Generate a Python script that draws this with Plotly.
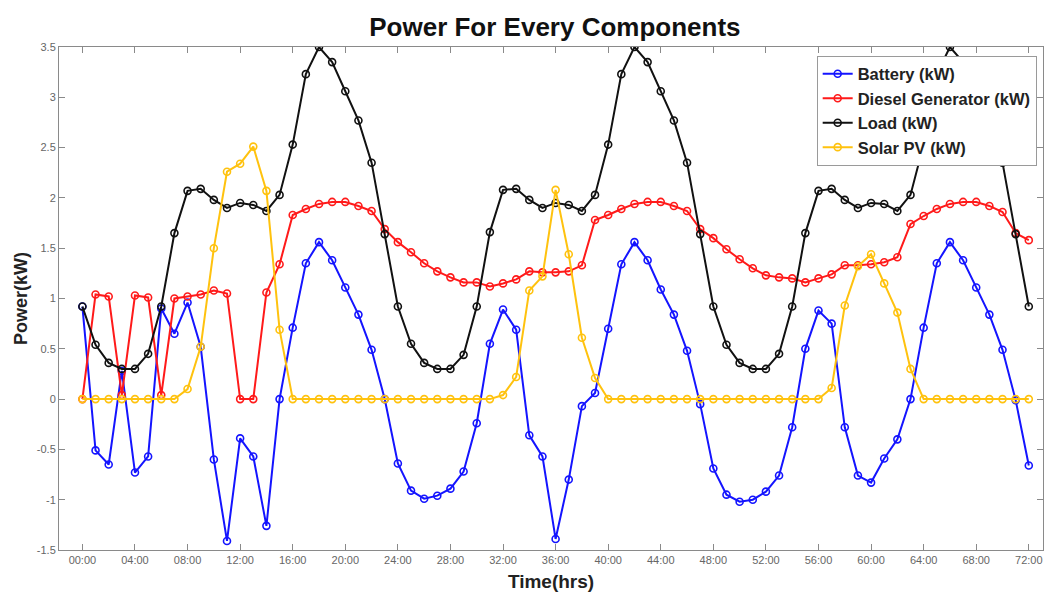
import plotly.graph_objects as go

hours = list(range(73))

battery = [0.92, -0.51, -0.65, 0.28, -0.73, -0.57, 0.90, 0.65, 0.96, 0.52,
           -0.60, -1.41, -0.39, -0.57, -1.26, 0.00, 0.71, 1.35, 1.56, 1.38,
           1.11, 0.84, 0.49, 0.00, -0.64, -0.91, -0.99, -0.96, -0.89, -0.72,
           -0.24, 0.55, 0.89, 0.69, -0.36, -0.57, -1.39, -0.80, -0.07, 0.06,
           0.70, 1.34, 1.56, 1.38, 1.09, 0.84, 0.48, -0.05, -0.69, -0.95,
           -1.02, -1.00, -0.92, -0.76, -0.28, 0.50, 0.88, 0.75, -0.28, -0.76,
           -0.83, -0.59, -0.40, 0.00, 0.71, 1.35, 1.56, 1.38, 1.11, 0.84,
           0.49, -0.01, -0.66]

diesel = [0.00, 1.04, 1.02, 0.04, 1.03, 1.01, 0.04, 1.00, 1.02, 1.04,
          1.08, 1.05, 0.00, 0.00, 1.06, 1.34, 1.83, 1.89, 1.94, 1.96,
          1.96, 1.92, 1.87, 1.69, 1.56, 1.46, 1.35, 1.27, 1.21, 1.16,
          1.16, 1.12, 1.15, 1.19, 1.27, 1.26, 1.26, 1.27, 1.33, 1.78,
          1.83, 1.89, 1.94, 1.96, 1.96, 1.92, 1.87, 1.69, 1.60, 1.49,
          1.39, 1.30, 1.23, 1.21, 1.20, 1.16, 1.20, 1.24, 1.33, 1.33,
          1.34, 1.36, 1.41, 1.74, 1.82, 1.89, 1.94, 1.96, 1.96, 1.92,
          1.86, 1.65, 1.58]

load = [0.92, 0.54, 0.36, 0.30, 0.30, 0.45, 0.92, 1.65, 2.07, 2.09,
        1.98, 1.90, 1.95, 1.93, 1.87, 2.03, 2.53, 3.23, 3.50, 3.35,
        3.06, 2.77, 2.35, 1.64, 0.92, 0.55, 0.36, 0.30, 0.30, 0.44,
        0.92, 1.66, 2.08, 2.09, 1.98, 1.90, 1.95, 1.93, 1.87, 2.03,
        2.53, 3.23, 3.50, 3.35, 3.06, 2.77, 2.35, 1.64, 0.92, 0.54,
        0.36, 0.30, 0.30, 0.45, 0.92, 1.65, 2.07, 2.09, 1.98, 1.90,
        1.95, 1.94, 1.87, 2.03, 2.53, 3.23, 3.50, 3.35, 3.06, 2.77,
        2.35, 1.64, 0.92]

solar = [0, 0, 0, 0, 0, 0, 0, 0, 0.10, 0.52,
         1.50, 2.26, 2.34, 2.51, 2.07, 0.69, 0, 0, 0, 0,
         0, 0, 0, 0, 0, 0, 0, 0, 0, 0,
         0, 0, 0.04, 0.22, 1.08, 1.22, 2.08, 1.44, 0.61, 0.21,
         0, 0, 0, 0, 0, 0, 0, 0, 0, 0,
         0, 0, 0, 0, 0, 0, 0, 0.11, 0.93, 1.32,
         1.44, 1.15, 0.86, 0.30, 0, 0, 0, 0, 0, 0,
         0, 0, 0]

tick_hours = list(range(0, 73, 4))
tick_labels = [f"{h:02d}:00" for h in tick_hours]
y_ticks = [-1.5, -1, -0.5, 0, 0.5, 1, 1.5, 2, 2.5, 3, 3.5]
y_labels = ["-1.5", "-1", "-0.5", "0", "0.5", "1", "1.5", "2", "2.5", "3", "3.5"]

series = [
    ("Battery (kW)", battery, "#1414FF"),
    ("Diesel Generator (kW)", diesel, "#FF1A1A"),
    ("Load (kW)", load, "#111111"),
    ("Solar PV (kW)", solar, "#FFC20E"),
]

fig = go.Figure()
for name, vals, col in series:
    fig.add_trace(go.Scatter(
        x=hours, y=vals, name=f"<b>{name}</b>", mode="lines+markers",
        line=dict(color=col, width=2),
        marker=dict(symbol="circle-open", size=7, color=col, line=dict(width=1.6, color=col)),
    ))

axis_col = "#8a8a8a"
fig.update_layout(
    width=1045, height=592,
    paper_bgcolor="white", plot_bgcolor="white",
    margin=dict(l=59, r=2, t=47, b=42),
    font=dict(family="Liberation Sans, Arial, sans-serif", color="#222"),
    title=dict(text="<b>Power For Every Components</b>", x=0.531, xanchor="center",
               y=0.954, yanchor="middle", font=dict(size=26, color="#111")),
    legend=dict(x=0.770, y=0.983, xanchor="left", yanchor="top",
                bgcolor="white", bordercolor="#9a9a9a", borderwidth=1,
                font=dict(size=16.5, color="#222"), tracegroupgap=0, itemwidth=30),
    showlegend=True,
)
fig.update_xaxes(
    range=[-1.78, 73.08], tickvals=tick_hours, ticktext=tick_labels,
    ticks="inside", ticklen=6, tickcolor=axis_col, showline=True, linecolor=axis_col,
    linewidth=1, mirror="ticks", showgrid=False, zeroline=False,
    tickfont=dict(size=11, color="#666"),
    title=dict(text="<b>Time(hrs)</b>", font=dict(size=19, color="#222"), standoff=9),
)
fig.update_yaxes(
    range=[-1.5, 3.5], tickvals=y_ticks, ticktext=y_labels,
    ticks="inside", ticklen=6, tickcolor=axis_col, showline=True, linecolor=axis_col,
    linewidth=1, mirror="ticks", showgrid=False, zeroline=False,
    tickfont=dict(size=11, color="#666"),
    title=dict(text="<b>Power(kW)</b>", font=dict(size=18, color="#222"), standoff=4),
)

fig.write_html("out.html", config={"displayModeBar": False},
               post_script="document.body.style.margin='0';")
